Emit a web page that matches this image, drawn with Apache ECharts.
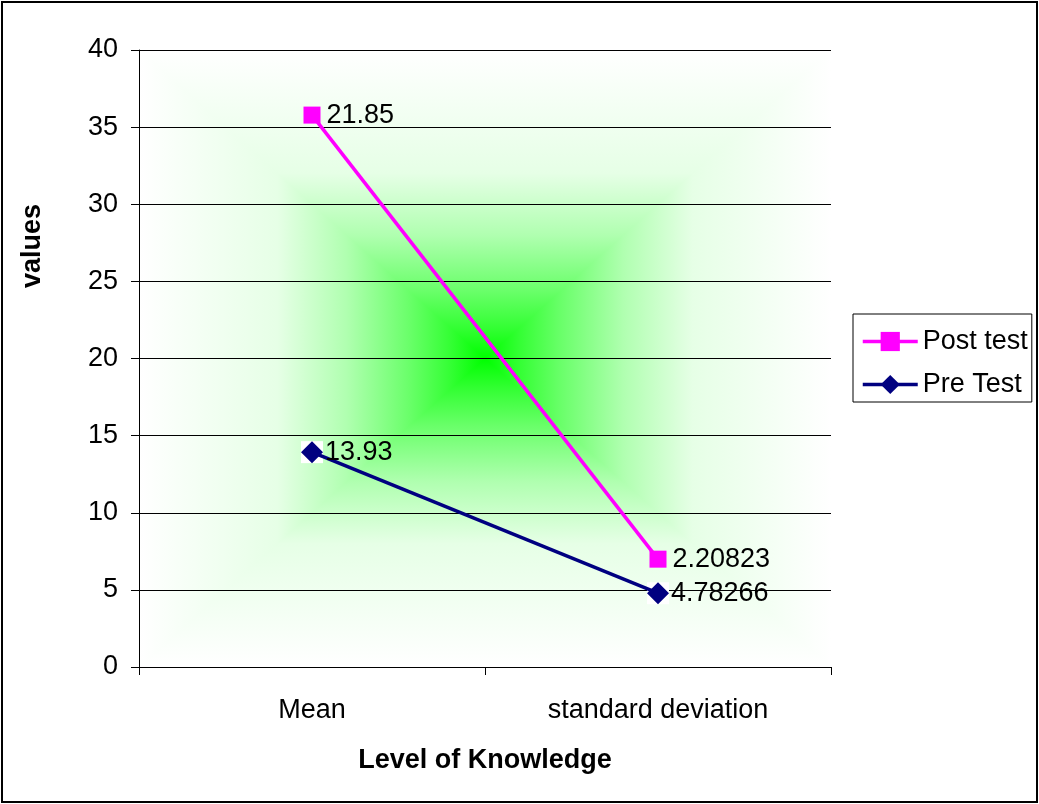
<!DOCTYPE html>
<html>
<head>
<meta charset="utf-8">
<script src="https://cdn.jsdelivr.net/npm/echarts@6/dist/echarts.min.js"></script>
<style>
html,body{margin:0;padding:0;background:#fff;}
#main{width:1039px;height:804px;}
</style>
</head>
<body>
<div id="main"></div>
<script>
// ---- data ----
var categories = ['Mean', 'standard deviation'];
var preTest = [13.93, 4.78266];
var postTest = [21.85, 2.20823];
var yTicks = {min: 0, max: 40, interval: 5};
var xAxisTitle = 'Level of Knowledge';
var yAxisTitle = 'values';

// ---- layout ----
var G = {x0: 139, y0: 50, x1: 831, y1: 667};
var cx = (G.x0 + G.x1) / 2, cy = (G.y0 + G.y1) / 2;
var FS = 27;

// gradient stops from edge (0) to centre (1)
var stops = [[0, '#ffffff'], [0.4, '#e6ffe6'], [0.6, '#b0ffb0'], [0.78, '#6aff6a'], [0.9, '#34ff34'], [1, '#00ff00']];
function grad(x, y, x2, y2) {
  return {type: 'linear', x: x, y: y, x2: x2, y2: y2,
    colorStops: stops.map(function (s) { return {offset: s[0], color: s[1]}; })};
}
var hStops = [];
stops.forEach(function (s) { hStops.push({offset: s[0] / 2, color: s[1]}); });
stops.slice().reverse().forEach(function (s) { hStops.push({offset: 1 - s[0] / 2, color: s[1]}); });

var chart = echarts.init(document.getElementById('main'), null, {renderer: 'canvas'});
var font = 'Liberation Sans, Arial, sans-serif';

chart.setOption({
  backgroundColor: '#ffffff',
  animation: false,
  textStyle: {fontFamily: font},
  grid: {left: G.x0, top: G.y0, right: 1039 - G.x1, bottom: 804 - G.y1, containLabel: false},
  graphic: [
    {type: 'rect', z: -10, silent: true,
      shape: {x: G.x0, y: G.y0, width: G.x1 - G.x0, height: G.y1 - G.y0},
      style: {fill: {type: 'linear', x: 0, y: 0, x2: 1, y2: 0, colorStops: hStops}}},
    {type: 'polygon', z: -9, silent: true,
      shape: {points: [[G.x0, G.y0], [G.x1, G.y0], [cx, cy]]},
      style: {fill: grad(0, 0, 0, 1)}},
    {type: 'polygon', z: -9, silent: true,
      shape: {points: [[G.x0, G.y1], [G.x1, G.y1], [cx, cy]]},
      style: {fill: grad(0, 1, 0, 0)}},
    {type: 'rect', z: 10, silent: true,
      shape: {x: 2, y: 2, width: 1035, height: 800},
      style: {fill: 'none', stroke: '#000', lineWidth: 2}},
    {type: 'text', z: 10, silent: true, x: 33, y: 246, rotation: Math.PI / 2,
      style: {text: yAxisTitle, font: 'bold ' + FS + 'px ' + font, fill: '#000', align: 'center', verticalAlign: 'middle'}}
  ],
  legend: {
    orient: 'vertical', left: 853, top: 314,
    data: ['Post test', 'Pre Test'],
    itemWidth: 55, itemHeight: 24, itemGap: 16,
    padding: [14, 4, 4, 8],
    borderColor: '#000', borderWidth: 1, backgroundColor: '#fff',
    lineStyle: {width: 3.5},
    textStyle: {fontSize: FS, color: '#000', fontFamily: font}
  },
  xAxis: {
    type: 'category', data: categories, boundaryGap: true,
    name: xAxisTitle, nameLocation: 'middle', nameGap: 80,
    nameTextStyle: {fontSize: FS, fontWeight: 'bold', color: '#000', fontFamily: font},
    axisLine: {lineStyle: {color: '#000', width: 1}},
    axisTick: {show: true, length: 8, inside: false, lineStyle: {color: '#000'}},
    axisLabel: {fontSize: FS, color: '#000', margin: 30, fontFamily: font},
    splitLine: {show: false}
  },
  yAxis: {
    type: 'value', min: yTicks.min, max: yTicks.max, interval: yTicks.interval,
    axisLine: {show: true, lineStyle: {color: '#000', width: 1}},
    axisTick: {show: true, length: 8, lineStyle: {color: '#000'}},
    axisLabel: {fontSize: FS, color: '#000', margin: 21, fontFamily: font},
    splitLine: {show: true, lineStyle: {color: '#000', width: 1}}
  },
  series: [
    {name: 'Pre Test', type: 'line', stack: 'total', data: preTest, z: 3,
      symbol: 'diamond', symbolSize: 22,
      itemStyle: {color: '#000080'},
      lineStyle: {color: '#000080', width: 3.5},
      label: {show: true, position: 'right', distance: 2, fontSize: FS, color: '#000', fontFamily: font}},
    {name: 'Post test', type: 'line', stack: 'total', data: postTest, z: 3,
      symbol: 'rect', symbolSize: 17,
      itemStyle: {color: '#ff00ff'},
      lineStyle: {color: '#ff00ff', width: 3.5},
      label: {show: true, position: 'right', distance: 6, fontSize: FS, color: '#000', fontFamily: font}},
    {name: 'Pre Test marker background', type: 'line', data: preTest, z: 2,
      symbol: 'rect', symbolSize: 22, showSymbol: true,
      itemStyle: {color: '#ffffff', opacity: 1},
      lineStyle: {opacity: 0}, silent: true, label: {show: false}}
  ]
});
</script>
</body>
</html>
